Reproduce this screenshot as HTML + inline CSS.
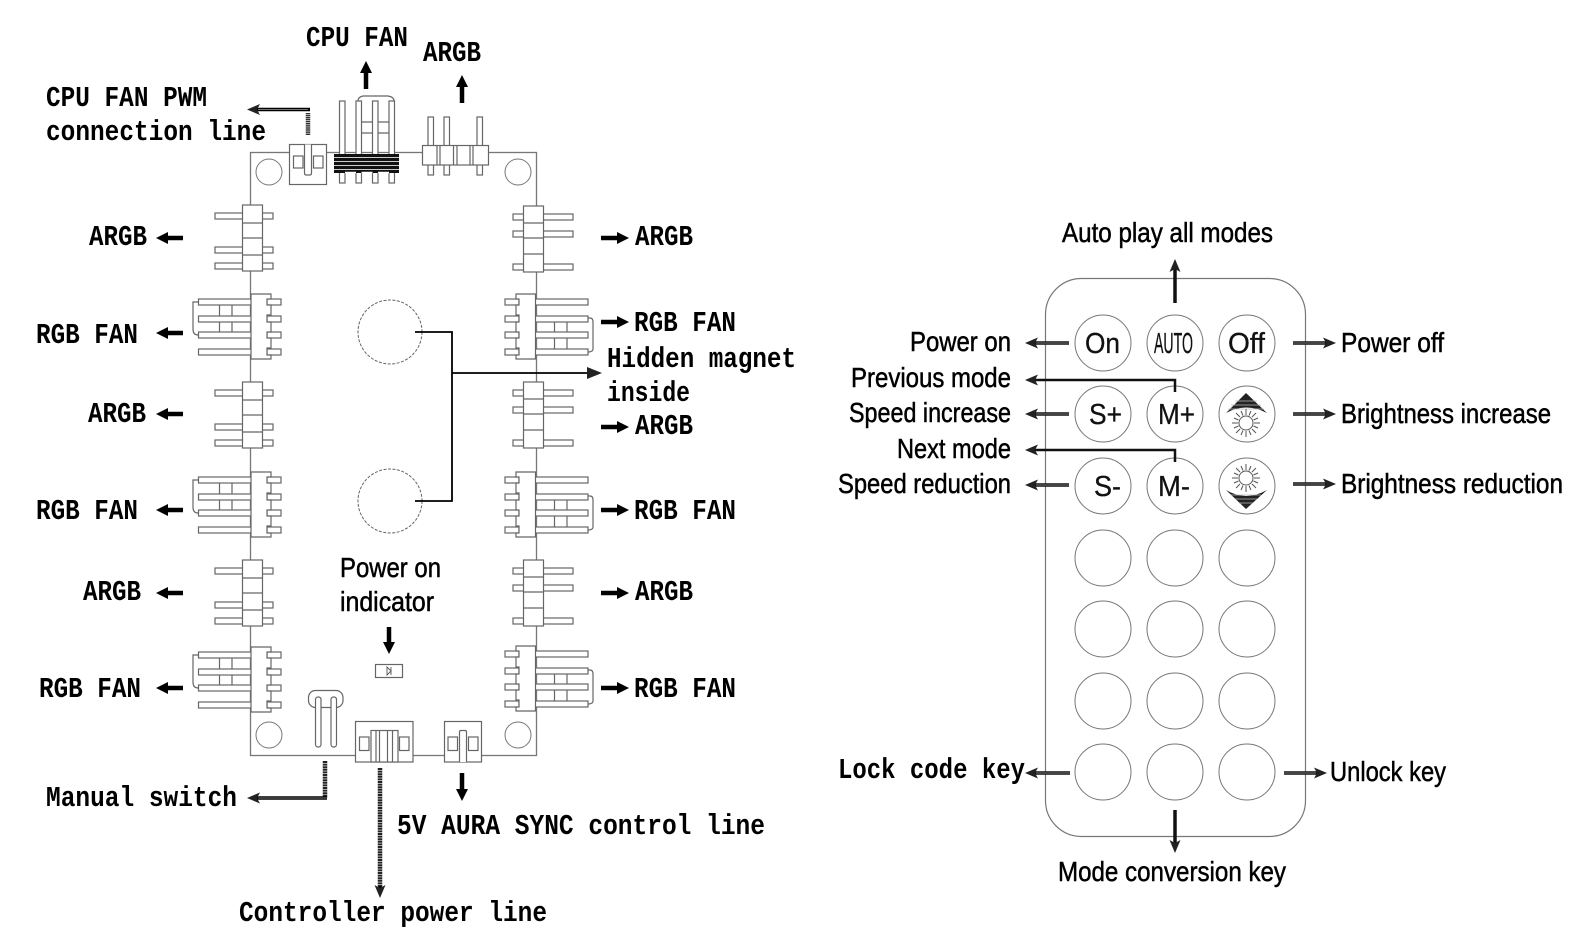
<!DOCTYPE html>
<html><head><meta charset="utf-8"><style>
html,body{margin:0;padding:0;background:#fff}
svg{display:block}
.m{font-family:"Liberation Mono",monospace;font-weight:bold;font-size:29px;fill:#000}
.s{font-family:"Liberation Sans",sans-serif;font-size:27.500px;fill:#000;stroke:#000;stroke-width:.5}
.b{font-family:"Liberation Sans",sans-serif;font-size:29px;fill:#111;stroke:#111;stroke-width:.3;text-anchor:start}
.l{fill:#fff;stroke:#666;stroke-width:1.2}
.n{fill:none;stroke:#666;stroke-width:1.2}
.c{fill:#fff;stroke:#777;stroke-width:1}
</style></head><body>
<svg width="1584" height="944" viewBox="0 0 1584 944" xmlns="http://www.w3.org/2000/svg">
<defs>
<marker id="hb" markerUnits="userSpaceOnUse" markerWidth="16" markerHeight="16" refX="0" refY="8" orient="auto"><path d="M0 2L12 8L0 14Z" fill="#000"/></marker>
<marker id="hd" markerUnits="userSpaceOnUse" markerWidth="16" markerHeight="14" refX="3" refY="7" orient="auto"><path d="M0 1.500L13 7L0 12.500L3 7Z" fill="#222"/></marker>
<g id="la">
<rect class="l" x="215" y="3" width="58" height="6"/><rect class="l" x="215" y="37" width="58" height="6"/><rect class="l" x="215" y="53" width="58" height="6"/>
<rect class="l" x="242.500" y="-5" width="20" height="66"/>
<path class="n" d="M242.500 13h20M242.500 28h20M242.500 45h20"/>
</g>
<g id="ra">
<rect class="l" x="513" y="3" width="60" height="6"/><rect class="l" x="513" y="20" width="60" height="6"/><rect class="l" x="513" y="53" width="60" height="6"/>
<rect class="l" x="523.500" y="-5" width="20" height="66"/>
<path class="n" d="M523.500 12h20M523.500 27h20M523.500 43h20"/>
</g>
<g id="lf">
<path class="n" d="M198 8H193Q193 8 193 14V35Q193 41 198 41"/>
<rect class="l" x="198.500" y="5" width="53" height="6"/><rect class="l" x="198.500" y="22" width="53" height="6"/><rect class="l" x="198.500" y="38" width="53" height="6"/><rect class="l" x="198.500" y="55" width="53" height="6"/>
<path class="n" d="M219.500 11v11M232 11v11M219.500 28v10M232 28v10"/>
<rect class="l" x="267" y="5" width="14" height="6"/><rect class="l" x="267" y="22" width="14" height="6"/><rect class="l" x="267" y="38" width="14" height="6"/><rect class="l" x="267" y="55" width="14" height="6"/>
<path class="l" d="M251 0H271V5H267V11H271V21H267V28H271V38H267V44H271V54H267V61H271V65H251Z"/>
</g>
<g id="rf">
<path class="n" d="M588 24H590Q593 24 593 28V55Q593 58 588 58"/>
<rect class="l" x="535" y="5" width="53" height="6"/><rect class="l" x="535" y="22" width="53" height="6"/><rect class="l" x="535" y="38" width="53" height="6"/><rect class="l" x="535" y="55" width="53" height="6"/>
<path class="n" d="M554.500 28v10M567 28v10M554.500 44v11M567 44v11"/>
<rect class="l" x="505" y="5" width="14" height="6"/><rect class="l" x="505" y="22" width="14" height="6"/><rect class="l" x="505" y="38" width="14" height="6"/><rect class="l" x="505" y="55" width="14" height="6"/>
<path class="l" d="M535.500 0H516V5H519V11H516V21H519V28H516V38H519V44H516V54H519V61H516V65H535.500Z"/>
</g>
<g id="sun" stroke="#555" stroke-width="1" fill="none">
<circle r="7"/><path d="M0-8V-14M0 8V14M-8 0H-14M8 0H14M-6-6L-10-10M6-6L10-10M-6 6L-10 10M6 6L10 10M-3-7.500L-5-12M3-7.500L5-12M-3 7.500L-5 12M3 7.500L5 12M-7.500-3L-12-5M7.500-3L12-5M-7.500 3L-12 5M7.500 3L12 5"/>
</g>
</defs>

<!-- board -->
<rect x="250.500" y="152.500" width="286" height="603" fill="none" stroke="#777" stroke-width="1.300"/>
<circle class="c" cx="269" cy="172" r="13"/><circle class="c" cx="518" cy="172" r="13"/>
<circle class="c" cx="269" cy="735" r="13"/><circle class="c" cx="518" cy="735" r="13"/>
<circle cx="390" cy="332" r="32" fill="none" stroke="#666" stroke-width="1" stroke-dasharray="3 1.500"/>
<circle cx="390" cy="501" r="32" fill="none" stroke="#666" stroke-width="1" stroke-dasharray="3 1.500"/>
<path d="M415 332H452V501H415" fill="none" stroke="#000" stroke-width="1.800"/>
<path d="M452 373H592" fill="none" stroke="#000" stroke-width="1.800"/>
<path d="M587 367L602 373L587 379Z" fill="#222"/>

<!-- top connectors -->
<rect class="l" x="289.500" y="144.500" width="37" height="40"/>
<rect class="l" x="293.500" y="156" width="9.500" height="12"/><rect class="l" x="313.500" y="156" width="9.500" height="12"/>
<path class="l" d="M304.500 144.500V173Q304.500 175 306 175H310Q311.500 175 311.500 173V144.500"/>

<path class="n" d="M358 101Q358 97 363 96H388Q394 97 394 101"/>
<path class="n" d="M361 122H389M361 133H389M375 101V154"/>
<rect class="l" x="339.500" y="101" width="5.500" height="82"/><rect class="l" x="356" y="101" width="5.500" height="82"/><rect class="l" x="372.500" y="101" width="5.500" height="82"/><rect class="l" x="389" y="101" width="5.500" height="82"/>
<path d="M334 154H399V173H334Z" fill="#111"/>
<path d="M334 157.500H399M334 161.500H399M334 165.500H399M334 169.500H399" stroke="#ccc" stroke-width="1"/>
<path d="M345 172.500h11M361.500 172.500h11M378 172.500h11" stroke="#fff" stroke-width="1.500"/>

<rect class="l" x="428" y="117" width="5.500" height="58"/><rect class="l" x="444" y="117" width="5.500" height="58"/><rect class="l" x="477" y="117" width="5.500" height="58"/>
<rect class="l" x="422.500" y="145.500" width="66" height="19.500"/>
<path class="n" d="M437 145.500v19.500M440 145.500v19.500M453.500 145.500v19.500M457 145.500v19.500M470 145.500v19.500M473 145.500v19.500"/>

<!-- side connectors -->
<use href="#la" y="210"/><use href="#la" y="387"/><use href="#la" y="565"/>
<use href="#ra" y="211"/><use href="#ra" y="387"/><use href="#ra" y="565"/>
<use href="#lf" y="294"/><use href="#lf" y="472"/><use href="#lf" y="647"/>
<use href="#rf" y="294"/><use href="#rf" y="472"/><use href="#rf" y="646"/>

<!-- bottom connectors -->
<rect class="l" x="308.500" y="690.500" width="34.500" height="17" rx="7"/>
<rect class="l" x="315.500" y="697" width="5.500" height="50" rx="2.500"/><rect class="l" x="331" y="697" width="5.500" height="50" rx="2.500"/>
<rect class="l" x="375.500" y="664.500" width="27" height="13"/>
<path d="M387 667V675L391 671ZM391 667V675" fill="none" stroke="#555" stroke-width=".9"/>
<rect class="l" x="355.500" y="721.500" width="57.500" height="40.500"/>
<rect class="l" x="359.500" y="737" width="9.500" height="13.500"/><rect class="l" x="399.500" y="737" width="9.500" height="13.500"/>
<rect class="l" x="371" y="730.500" width="27" height="31.500"/>
<path class="n" d="M376 730.500v31.500M379.500 730.500v31M387.500 730.500v31M392.500 730.500v31"/>
<rect class="l" x="444.500" y="721.500" width="37" height="40.500"/>
<rect class="l" x="448" y="737" width="9.500" height="13.500"/><rect class="l" x="468.500" y="737" width="9.500" height="13.500"/>
<path class="l" d="M459.500 762V732Q459.500 730.500 461 730.500H465Q466.500 730.500 466.500 732V762"/>

<!-- board arrows -->
<g fill="none" stroke="#000" stroke-width="4.500">
<path d="M183 238H168" marker-end="url(#hb)"/><path d="M183 333H168" marker-end="url(#hb)"/><path d="M183 414H168" marker-end="url(#hb)"/><path d="M183 510H168" marker-end="url(#hb)"/><path d="M183 593H168" marker-end="url(#hb)"/><path d="M183 688H168" marker-end="url(#hb)"/>
<path d="M601 238H617" marker-end="url(#hb)"/><path d="M601 322H617" marker-end="url(#hb)"/><path d="M601 427H617" marker-end="url(#hb)"/><path d="M601 510H617" marker-end="url(#hb)"/><path d="M601 593H617" marker-end="url(#hb)"/><path d="M601 688H617" marker-end="url(#hb)"/>
<path d="M366 89V73" marker-end="url(#hb)"/><path d="M462 103V87" marker-end="url(#hb)"/>
<path d="M389 627V642" marker-end="url(#hb)"/><path d="M462 773V789" marker-end="url(#hb)"/>
<path d="M380 768V888" stroke="#222" stroke-width="4.500" stroke-dasharray="2 .6"/>
<path d="M380 886V888" marker-end="url(#hd)" stroke-width="3"/>
<path d="M308 135V113" stroke="#333" stroke-width="4.500" stroke-dasharray="1.500 .6"/>
<path d="M310 109.500H257" stroke-width="3.500" marker-end="url(#hd)"/>
<path d="M325 761V798" stroke="#222" stroke-width="4.500" stroke-dasharray="2 .6"/>
<path d="M327 798H257" stroke-width="3.500" marker-end="url(#hd)"/>
</g>
<path d="M308 109.500H258M327 798H258" stroke="#999" stroke-width=".8"/>

<!-- remote -->
<rect x="1045.500" y="278.500" width="260" height="558" rx="36" fill="none" stroke="#777" stroke-width="1.200"/>
<g class="c" fill="#fff" stroke="#666" stroke-width="1">
<circle cx="1103" cy="343" r="28"/><circle cx="1175" cy="343" r="28"/><circle cx="1247" cy="343" r="28"/>
<circle cx="1103" cy="414" r="28"/><circle cx="1175" cy="414" r="28"/><circle cx="1247" cy="414" r="28"/>
<circle cx="1103" cy="486" r="28"/><circle cx="1175" cy="486" r="28"/><circle cx="1247" cy="486" r="28"/>
<circle cx="1103" cy="558" r="28"/><circle cx="1175" cy="558" r="28"/><circle cx="1247" cy="558" r="28"/>
<circle cx="1103" cy="629" r="28"/><circle cx="1175" cy="629" r="28"/><circle cx="1247" cy="629" r="28"/>
<circle cx="1103" cy="701" r="28"/><circle cx="1175" cy="701" r="28"/><circle cx="1247" cy="701" r="28"/>
<circle cx="1103" cy="772" r="28"/><circle cx="1175" cy="772" r="28"/><circle cx="1247" cy="772" r="28"/>
</g>
<text class="b" x="1085" y="353" textLength="35" lengthAdjust="spacingAndGlyphs">On</text>
<text class="b" x="1154" y="353" textLength="39" lengthAdjust="spacingAndGlyphs">AUTO</text>
<text class="b" x="1228" y="353" textLength="37" lengthAdjust="spacingAndGlyphs">Off</text>
<text class="b" x="1089" y="424" textLength="33" lengthAdjust="spacingAndGlyphs">S+</text>
<text class="b" x="1158" y="424" textLength="37" lengthAdjust="spacingAndGlyphs">M+</text>
<text class="b" x="1094" y="496" textLength="27" lengthAdjust="spacingAndGlyphs">S-</text>
<text class="b" x="1158" y="496" textLength="32" lengthAdjust="spacingAndGlyphs">M-</text>
<path d="M1246 393L1267 413Q1246 402 1226 413Z" fill="#222"/>
<path d="M1235 401H1257M1231 405H1261M1228 409H1264" stroke="#bbb" stroke-width=".8"/>
<use href="#sun" x="1246" y="423"/>
<use href="#sun" x="1246" y="478"/>
<path d="M1246 509L1267 490Q1246 502 1226 490Z" fill="#222"/>
<path d="M1231 495H1261M1235 499H1257M1239 503H1253" stroke="#bbb" stroke-width=".8"/>

<g fill="none" stroke="#111" stroke-width="3.500">
<path d="M1069 343H1035" marker-end="url(#hd)"/><path d="M1069 414H1035" marker-end="url(#hd)"/><path d="M1069 485H1035" marker-end="url(#hd)"/>
<path d="M1070 773H1035" marker-end="url(#hd)"/>
<path d="M1293 343H1326" marker-end="url(#hd)"/><path d="M1293 414H1326" marker-end="url(#hd)"/><path d="M1293 484H1326" marker-end="url(#hd)"/>
<path d="M1284 773H1317" marker-end="url(#hd)"/>
<path d="M1175 303V269" marker-end="url(#hd)"/><path d="M1175 810V843" marker-end="url(#hd)"/>
<path d="M1175 392V380H1035" stroke-width="2.500" marker-end="url(#hd)"/><path d="M1175 462V450H1035" stroke-width="2.500" marker-end="url(#hd)"/>
</g>
<path d="M1069 343H1036M1069 414H1036M1069 485H1036M1070 773H1036M1293 343H1325M1293 414H1325M1293 484H1325M1284 773H1316" stroke="#999" stroke-width=".8"/>

<!-- mono labels -->
<text class="m" x="306" y="46" textLength="102" lengthAdjust="spacingAndGlyphs">CPU FAN</text>
<text class="m" x="423" y="61" textLength="58" lengthAdjust="spacingAndGlyphs">ARGB</text>
<text class="m" x="46" y="106" textLength="161" lengthAdjust="spacingAndGlyphs">CPU FAN PWM</text>
<text class="m" x="46" y="140" textLength="220" lengthAdjust="spacingAndGlyphs">connection line</text>
<text class="m" x="89" y="245" textLength="58" lengthAdjust="spacingAndGlyphs">ARGB</text>
<text class="m" x="36" y="343" textLength="102" lengthAdjust="spacingAndGlyphs">RGB FAN</text>
<text class="m" x="88" y="422" textLength="58" lengthAdjust="spacingAndGlyphs">ARGB</text>
<text class="m" x="36" y="519" textLength="102" lengthAdjust="spacingAndGlyphs">RGB FAN</text>
<text class="m" x="83" y="600" textLength="58" lengthAdjust="spacingAndGlyphs">ARGB</text>
<text class="m" x="39" y="697" textLength="102" lengthAdjust="spacingAndGlyphs">RGB FAN</text>
<text class="m" x="635" y="245" textLength="58" lengthAdjust="spacingAndGlyphs">ARGB</text>
<text class="m" x="634" y="331" textLength="102" lengthAdjust="spacingAndGlyphs">RGB FAN</text>
<text class="m" x="607" y="367" textLength="189" lengthAdjust="spacingAndGlyphs">Hidden magnet</text>
<text class="m" x="607" y="401" textLength="83" lengthAdjust="spacingAndGlyphs">inside</text>
<text class="m" x="635" y="434" textLength="58" lengthAdjust="spacingAndGlyphs">ARGB</text>
<text class="m" x="634" y="519" textLength="102" lengthAdjust="spacingAndGlyphs">RGB FAN</text>
<text class="m" x="635" y="600" textLength="58" lengthAdjust="spacingAndGlyphs">ARGB</text>
<text class="m" x="634" y="697" textLength="102" lengthAdjust="spacingAndGlyphs">RGB FAN</text>
<text class="m" x="46" y="806" textLength="191" lengthAdjust="spacingAndGlyphs">Manual switch</text>
<text class="m" x="397" y="834" textLength="368" lengthAdjust="spacingAndGlyphs">5V AURA SYNC control line</text>
<text class="m" x="239" y="921" textLength="308" lengthAdjust="spacingAndGlyphs">Controller power line</text>
<text class="m" x="838" y="778" textLength="187" lengthAdjust="spacingAndGlyphs">Lock code key</text>

<!-- narrow labels -->
<text class="s" x="340" y="577" textLength="101" lengthAdjust="spacingAndGlyphs">Power on</text>
<text class="s" x="340" y="611" textLength="94" lengthAdjust="spacingAndGlyphs">indicator</text>
<text class="s" x="1062" y="242" textLength="211" lengthAdjust="spacingAndGlyphs">Auto play all modes</text>
<text class="s" x="910" y="351" textLength="101" lengthAdjust="spacingAndGlyphs">Power on</text>
<text class="s" x="851" y="387" textLength="160" lengthAdjust="spacingAndGlyphs">Previous mode</text>
<text class="s" x="849" y="422" textLength="162" lengthAdjust="spacingAndGlyphs">Speed increase</text>
<text class="s" x="897" y="458" textLength="114" lengthAdjust="spacingAndGlyphs">Next mode</text>
<text class="s" x="838" y="493" textLength="173" lengthAdjust="spacingAndGlyphs">Speed reduction</text>
<text class="s" x="1341" y="352" textLength="103" lengthAdjust="spacingAndGlyphs">Power off</text>
<text class="s" x="1341" y="423" textLength="210" lengthAdjust="spacingAndGlyphs">Brightness increase</text>
<text class="s" x="1341" y="493" textLength="222" lengthAdjust="spacingAndGlyphs">Brightness reduction</text>
<text class="s" x="1330" y="781" textLength="116" lengthAdjust="spacingAndGlyphs">Unlock key</text>
<text class="s" x="1058" y="881" textLength="228" lengthAdjust="spacingAndGlyphs">Mode conversion key</text>
</svg>
</body></html>
